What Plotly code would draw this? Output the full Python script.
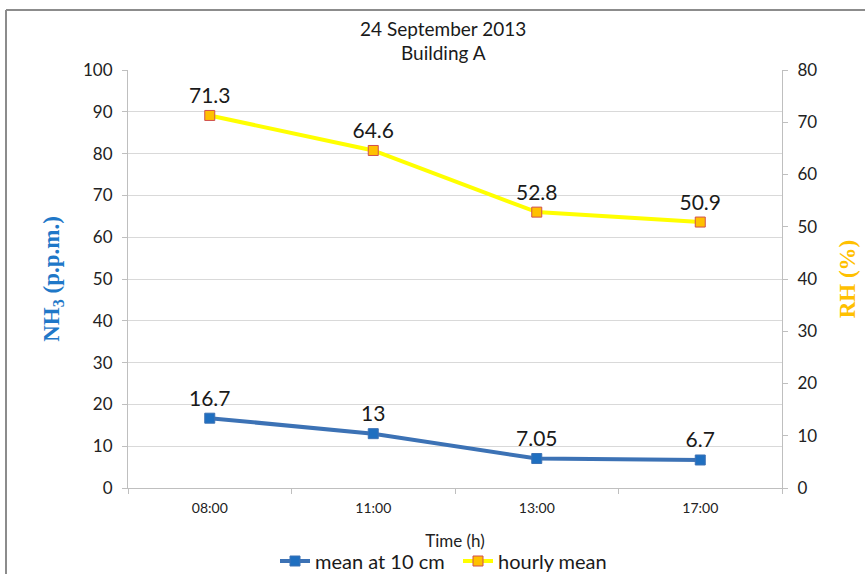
import plotly.graph_objects as go

# Sampling times and measured values
times = ["08:00", "11:00", "13:00", "17:00"]
nh3_ppm = [16.7, 13, 7.05, 6.7]        # mean at 10 cm (left axis)
rh_percent = [71.3, 64.6, 52.8, 50.9]  # hourly mean (right axis)

nh3_labels = ["16.7", "13", "7.05", "6.7"]
rh_labels = ["71.3", "64.6", "52.8", "50.9"]

W, H = 865, 574
L, R, T, B = 128, 83, 70, 86
pw, ph = W - L - R, H - T - B

def px_x(x):
    return (x - L) / pw

def px_y(y):
    return (H - B - y) / ph

FONT = "Lato"
label_font = dict(family=FONT, size=21, color="#1a1a1a")

fig = go.Figure()

fig.add_trace(go.Scatter(
    x=times, y=nh3_ppm, name="mean at 10 cm", mode="lines+markers+text",
    line=dict(color="#3C72B5", width=4),
    marker=dict(symbol="square", size=10, color="#1F6FC0",
                line=dict(color="#3C72B5", width=1)),
    text=nh3_labels, textposition="top center", textfont=label_font,
    yaxis="y", cliponaxis=False,
))

fig.add_trace(go.Scatter(
    x=times, y=rh_percent, name="hourly mean", mode="lines+markers+text",
    line=dict(color="#FFFF00", width=4),
    marker=dict(symbol="square", size=10, color="#FFC000",
                line=dict(color="#D0504D", width=1)),
    text=rh_labels, textposition="top center", textfont=label_font,
    yaxis="y2", cliponaxis=False,
))

tick_font = dict(family=FONT, size=17, color="#222222")

fig.update_layout(
    width=W, height=H,
    margin=dict(l=L, r=R, t=T, b=B, pad=0, autoexpand=False),
    paper_bgcolor="white", plot_bgcolor="white",
    showlegend=True,
    legend=dict(orientation="h", x=px_x(458), xanchor="center",
                y=px_y(561), yanchor="middle",
                font=dict(family=FONT, size=20, color="#1a1a1a"),
                itemwidth=30, entrywidth=138, tracegroupgap=0,
                bgcolor="rgba(0,0,0,0)"),
    xaxis=dict(
        type="category", tickson="boundaries", ticks="outside", ticklen=5,
        tickcolor="#BFBFBF", showline=True, linecolor="#BFBFBF", linewidth=1,
        showgrid=False, tickfont=dict(family=FONT, size=14, color="#222222"),
        ticklabelstandoff=7,
        title=dict(text="Time (h)", font=dict(family=FONT, size=17, color="#222222"),
                   standoff=20),
        range=[-0.5, 3.5],
    ),
    yaxis=dict(
        range=[0, 100], dtick=10, tick0=0, ticks="outside", ticklen=5,
        tickcolor="#BFBFBF", showline=True, linecolor="#BFBFBF", linewidth=1,
        showgrid=True, gridcolor="#D9D9D9", gridwidth=1, zeroline=False,
        tickfont=tick_font, ticklabelstandoff=6,
        title=dict(text="<b>NH<sub>3</sub> (p.p.m.)</b>",
                   font=dict(family="Liberation Serif", size=23, color="#1F78C8"),
                   standoff=16),
    ),
    yaxis2=dict(
        range=[0, 80], dtick=10, tick0=0, ticks="outside", ticklen=5,
        tickcolor="#BFBFBF", showline=True, linecolor="#BFBFBF", linewidth=1,
        showgrid=False, zeroline=False, overlaying="y", side="right",
        tickfont=tick_font, ticklabelstandoff=6,
        title=dict(text="<b>RH (%)</b>",
                   font=dict(family="Liberation Serif", size=23, color="#FFC000"),
                   standoff=22),
    ),
    annotations=[
        dict(text="24 September 2013", xref="paper", yref="paper",
             x=px_x(443), y=px_y(28), xanchor="center", yanchor="middle",
             showarrow=False, font=dict(family=FONT, size=19, color="#1a1a1a")),
        dict(text="Building A", xref="paper", yref="paper",
             x=px_x(443), y=px_y(52), xanchor="center", yanchor="middle",
             showarrow=False, font=dict(family=FONT, size=19, color="#1a1a1a")),
    ],
    shapes=[
        dict(type="line", xref="paper", yref="paper",
             x0=px_x(6), x1=px_x(6), y0=px_y(10), y1=px_y(H + 10),
             line=dict(color="#8C8C8C", width=2)),
        dict(type="line", xref="paper", yref="paper",
             x0=px_x(6), x1=px_x(W + 10), y0=px_y(10), y1=px_y(10),
             line=dict(color="#8C8C8C", width=2)),
    ],
)

fig.write_html("out.html")
